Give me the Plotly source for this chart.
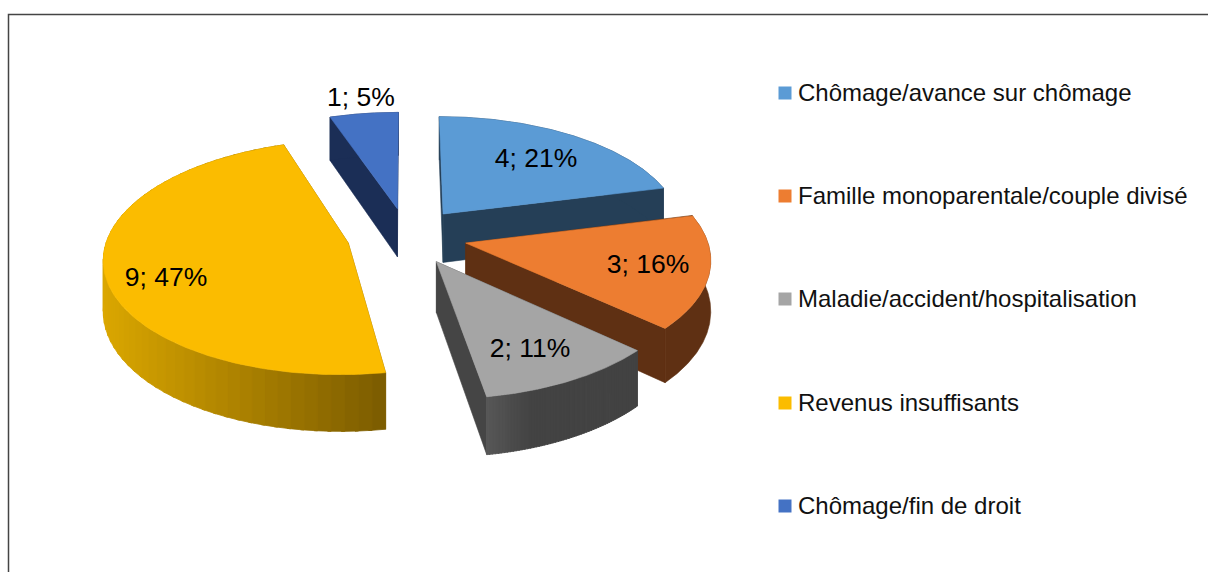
import numpy as np
import plotly.graph_objects as go

categories = ["Chômage/avance sur chômage", "Famille monoparentale/couple divisé",
              "Maladie/accident/hospitalisation", "Revenus insuffisants", "Chômage/fin de droit"]
counts = [4, 3, 2, 9, 1]
percent_labels = ["21%", "16%", "11%", "47%", "5%"]
top_colors = ["#5B9BD5", "#ED7D31", "#A5A5A5", "#FBBC00", "#4472C4"]
side_light = ["#253F57", "#5F3013", "#585858", "#DBA700", "#1B2E56"]
side_dark = ["#253F57", "#5F3013", "#434343", "#7D5D00", "#1B2E56"]
cut_colors = ["#253F57", "#5F3013", "#454545", "#7D5D00", "#1B2E56"]
gradient_span = [1, 1, 0.3, 1, 1]

CX, CY, R, TILT, K, DROP, EXPLODE = 407, 236, 240.5, 114, 0.12, 49.5, 0.25
LABEL_XY = [(536, 160), (648, 266), (530, 350), (166, 279), (361, 99)]
LEGEND_X, LEGEND_TEXT_X, LEGEND_Y = 785, 798, [93, 196, 299, 403, 506]
LEGEND_TEXT_DY = 2
W, H = 1208, 572


def project(gx, gy, drop=0.0):
    d = 1 + K * gy
    return CX + R * gx / d, CY - TILT * gy / d + drop / d


def poly(fig, xs, ys, color, width=0.6):
    fig.add_trace(go.Scatter(x=list(xs) + [xs[0]], y=list(ys) + [ys[0]], mode="lines",
                             fill="toself", fillcolor=color, line=dict(color=color, width=width),
                             hoverinfo="skip", showlegend=False))


def mix(a, b, t):
    ca = [int(a[i:i + 2], 16) for i in (1, 3, 5)]
    cb = [int(b[i:i + 2], 16) for i in (1, 3, 5)]
    return "#%02X%02X%02X" % tuple(round(p + (q - p) * t) for p, q in zip(ca, cb))


fig = go.Figure()
total = sum(counts)
edges = np.cumsum([0] + counts) / total * 2 * np.pi
for i in [4, 0, 3, 1, 2]:
    a0, a1 = edges[i], edges[i + 1]
    mid = (a0 + a1) / 2
    ox, oy = EXPLODE * np.sin(mid), EXPLODE * np.cos(mid)
    th = np.linspace(a0, a1, 241)
    gx, gy = ox + np.sin(th), oy + np.cos(th)
    ax, ay = project(ox, oy)
    axd, ayd = project(ox, oy, DROP)
    tx, ty = project(gx, gy)
    bx, by = project(gx, gy, DROP)
    # radial cut faces
    poly(fig, [ax, tx[0], bx[0], axd], [ay, ty[0], by[0], ayd], cut_colors[i])
    poly(fig, [ax, tx[-1], bx[-1], axd], [ay, ty[-1], by[-1], ayd], cut_colors[i])
    # outer rim: shaded strips, each overlapping the next, shade following the horizontal position
    if side_light[i] == side_dark[i]:
        poly(fig, list(tx) + list(bx)[::-1], list(ty) + list(by)[::-1], side_dark[i])
    else:
        n = 60
        idx = np.linspace(0, 240, n + 1).astype(int)
        for s in range(n):
            j0, j1 = idx[s], min(idx[s + 1] + 2, 241)
            t = min(1, (tx[j0] - tx.min()) / (tx.max() - tx.min()) / gradient_span[i])
            c = mix(side_light[i], side_dark[i], t)
            poly(fig, list(tx[j0:j1]) + list(bx[j0:j1])[::-1],
                 list(ty[j0:j1]) + list(by[j0:j1])[::-1], c, width=0.8)
    # top face
    poly(fig, [ax] + list(tx), [ay] + list(ty), top_colors[i])

fig.add_trace(go.Scatter(x=[p[0] for p in LABEL_XY], y=[p[1] for p in LABEL_XY], mode="text",
                         text=[f"{c}; {p}" for c, p in zip(counts, percent_labels)],
                         textposition="middle center",
                         textfont=dict(family="Liberation Sans", size=26.5, color="#000000"),
                         hoverinfo="skip", showlegend=False))

for name, color, y in zip(categories, top_colors, LEGEND_Y):
    fig.add_trace(go.Scatter(x=[LEGEND_X], y=[y], mode="markers", name=name,
                             marker=dict(symbol="square", size=13, color=color),
                             hoverinfo="name", showlegend=False))
fig.add_trace(go.Scatter(x=[LEGEND_TEXT_X] * len(categories), y=[v + LEGEND_TEXT_DY for v in LEGEND_Y],
                         mode="text", text=categories, textposition="middle right",
                         textfont=dict(family="Liberation Sans", size=24, color="#111111"),
                         hoverinfo="skip", showlegend=False))

fig.update_layout(width=W, height=H, margin=dict(l=0, r=0, t=0, b=0), autosize=False,
                  paper_bgcolor="white", plot_bgcolor="white",
                  xaxis=dict(range=[0, W], visible=False, fixedrange=True),
                  yaxis=dict(range=[H, 0], visible=False, fixedrange=True),
                  shapes=[dict(type="rect", xref="x", yref="y", x0=8.5, y0=14.5, x1=W + 5, y1=H + 5,
                               line=dict(color="#444444", width=1.5), layer="above")])
fig.write_html("out.html", config=dict(displayModeBar=False),
               post_script="document.body.style.margin='0';document.documentElement.style.overflow='hidden';")
